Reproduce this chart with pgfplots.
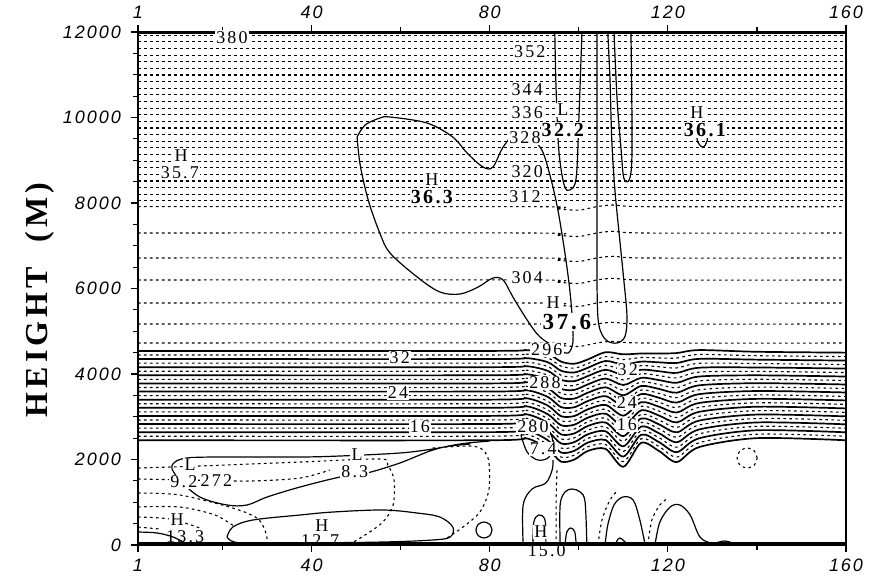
\documentclass[border=0pt]{standalone}
\usepackage{fontspec}
\setmainfont{Liberation Serif}
\newfontfamily\tickfont[LetterSpace=11]{Liberation Sans}
\newfontfamily\lblfont[LetterSpace=12]{Liberation Serif}
\newfontfamily\ylabfont[LetterSpace=13]{Liberation Serif}
\usepackage{pgfplots}
\pgfplotsset{compat=1.18}
\usepackage{pgfplotstable}

\pgfplotstableread{
x l0 l1 l2 l3 l4 l5 l6 l7 l8 l9 l10 l11 l12 l13 l14 l15 l16 l17 l18 l19 l20 l21 l22
1 4540 4445 4350 4255 4160 4065 3970 3875 3780 3685 3590 3495 3400 3305 3210 3115 3020 2925 2830 2735 2640 2545 2450
80 4540 4445 4350 4255 4160 4065 3970 3875 3780 3685 3590 3495 3400 3305 3210 3115 3020 2925 2830 2735 2640 2545 2450
88 4560 4466 4373 4279 4185 4092 3998 3905 3811 3717 3624 3530 3436 3343 3249 3155 3062 2968 2875 2781 2687 2594 2500
93 4480 4379 4277 4176 4075 3973 3872 3770 3669 3568 3466 3365 3264 3162 3061 2960 2858 2757 2655 2554 2453 2351 2250
96 4290 4184 4077 3971 3865 3758 3652 3545 3439 3333 3226 3120 3014 2907 2801 2695 2588 2482 2375 2269 2163 2056 1950
99 4240 4138 4036 3935 3833 3731 3629 3527 3425 3324 3222 3120 3018 2916 2815 2713 2611 2509 2407 2305 2204 2102 2000
102 4340 4243 4145 4048 3951 3854 3756 3659 3562 3465 3367 3270 3173 3075 2978 2881 2784 2686 2589 2492 2395 2297 2200
106 4510 4407 4305 4202 4099 3996 3894 3791 3688 3585 3483 3380 3277 3175 3072 2969 2866 2764 2661 2558 2455 2353 2250
110 4460 4340 4221 4101 3982 3862 3743 3623 3504 3384 3265 3145 3026 2906 2786 2667 2547 2428 2308 2189 2069 1950 1830
114 4480 4385 4290 4195 4100 4005 3910 3815 3720 3625 3530 3435 3340 3245 3150 3055 2960 2865 2770 2675 2580 2485 2390
118 4480 4376 4273 4169 4065 3962 3858 3755 3651 3547 3444 3340 3236 3133 3029 2925 2822 2718 2615 2511 2407 2304 2200
122 4490 4374 4258 4142 4026 3910 3795 3679 3563 3447 3331 3215 3099 2983 2867 2751 2635 2519 2404 2288 2172 2056 1940
127 4560 4457 4354 4250 4147 4044 3941 3838 3735 3631 3528 3425 3322 3219 3115 3012 2909 2806 2703 2600 2496 2393 2290
140 4520 4428 4336 4245 4153 4061 3969 3877 3785 3694 3602 3510 3418 3326 3235 3143 3051 2959 2867 2775 2684 2592 2500
160 4500 4407 4314 4220 4127 4034 3941 3848 3755 3661 3568 3475 3382 3289 3195 3102 3009 2916 2823 2730 2636 2543 2450
}\band

\pgfplotstableread{
x m0 m1 m2 m3 m4 m5 m6
1 4725 5170 5661 6199 6714 7298 7914
90 4725 5170 5661 6199 6714 7298 7914
95 4675 5120 5611 6149 6664 7248 7864
100 4645 5090 5581 6119 6634 7218 7834
104 4725 5170 5661 6199 6714 7298 7914
108 4765 5210 5701 6239 6754 7338 7954
115 4725 5170 5661 6199 6714 7298 7914
160 4725 5170 5661 6199 6714 7298 7914
}\mid

\begin{document}
\begin{tikzpicture}[
  iso/.style={black, line width=0.55pt, dash pattern=on 1.3pt off 1.7pt},
  isos/.style={iso, smooth, tension=0.5},
  wind/.style={black, line width=0.6pt, smooth, tension=0.55},
  bandw/.style={black, line width=0.85pt, smooth, tension=0.5},
  lbl/.style={font=\lblfont\fontsize{9}{10}\selectfont, fill=white, inner sep=0.6pt},
  lbln/.style={font=\lblfont\fontsize{9}{10}\selectfont, inner sep=0.6pt},
  blbl/.style={font=\lblfont\bfseries\fontsize{10}{11}\selectfont, fill=white, inner sep=0.6pt},
]
\begin{axis}[
  scale only axis, width=354pt, height=256.5pt,
  xmin=1, xmax=160, ymin=0, ymax=12000,
  xtick={1,40,80,120,160}, xticklabels={1,40,80,120,160},
  minor xtick={20,60,100,140},
  ytick={0,2000,4000,6000,8000,10000,12000},
  yticklabels={0,2000,4000,6000,8000,10000,12000},
  scaled y ticks=false, scaled x ticks=false,
  minor y tick num=3,
  ytick pos=left,
  tick align=outside,
  major tick length=3.5pt, minor tick length=2.5pt,
  tick style={black, line width=0.6pt},
  ticklabel style={font=\tickfont\itshape\fontsize{9}{10}\selectfont},
  yticklabel style={xshift=-1.5pt},
  axis line style={line width=0.7pt},
  clip mode=individual,
]
\coordinate (BL) at (rel axis cs:0,0);
\coordinate (TR) at (rel axis cs:1,1);

% upper isentropes (dense, above tropopause)
\pgfplotsinvokeforeach{8050,8205,8360,8515,8670,8825,8980,9135,9290,9445,9600,9755,9910,10065,10220,10375,10530,10685,10840,10995,11150,11305,11460,11615,11770,11925}{
  \addplot[iso] coordinates {(1,#1) (160,#1)};
}
% mid isentropes
\pgfplotsinvokeforeach{0,...,6}{
  \addplot[isos] table[x=x,y=m#1]{\mid};
}
% stable band: solid wind and dashed isentropes
\pgfplotsinvokeforeach{0,2,...,22}{
  \addplot[bandw] table[x=x,y=l#1]{\band};
}
\pgfplotsinvokeforeach{1,3,...,21}{
  \addplot[isos] table[x=x,y=l#1]{\band};
}

% ground and top lines
\addplot[black, line width=2.6pt] coordinates {(1,0) (160,0)};
\addplot[black, line width=2.2pt] coordinates {(1,12000) (160,12000)};

% jet contour (H 36.3)
\addplot[wind] coordinates {(50.2,9543) (52.0,9824) (55.3,9987) (57.6,10011) (65.9,9871) (71.7,9543) (74.9,9169) (78.5,8841) (80.7,8841) (83.0,9309) (86.1,9660) (89.0,9543) (91.7,9239) (93.5,8654) (95.3,7836) (97.1,6666) (98.2,5731) (98.7,4795) (97.6,4491) (95.8,4561) (91.3,4865) (88.4,5263) (85.2,5801) (83.0,6199) (80.7,6245) (77.4,6035) (73.3,5871) (68.8,5918) (63.7,6269) (57.6,6830) (55.3,7298) (52.7,8070) (50.9,8888) (50.2,9543)};
% tongue L 32.2
\addplot[wind] coordinates {(94.6,12000) (94.9,10642) (95.5,9239) (96.7,8420) (98.0,8303) (99.4,8584) (100.0,9941) (100.7,12000)};
% tongue 2
\addplot[wind] coordinates {(104.1,12000) (104.1,9941) (104.1,8070) (104.1,5964) (104.5,5146) (106.1,4795) (108.6,4725) (110.4,4889) (110.8,5380) (110.1,6198) (109.2,7134) (108.1,8303) (107.4,9473) (107.0,10876) (106.5,12000)};
% tongue 3
\addplot[wind] coordinates {(107.9,12000) (108.6,10409) (109.5,9239) (110.1,8584) (111.3,8537) (111.9,9005) (111.9,10409) (111.7,12000)};
% H 36.1 hook
\addplot[wind] coordinates {(126.3,9754) (126.7,9426) (127.9,9309) (128.8,9450) (128.8,9707)};

% L 9.2 / 8.3 contour
\addplot[wind] coordinates {(75.6,2362) (71.1,2316) (67.2,2245) (59.8,2152) (46.4,2082) (37.4,2058) (23.9,2058) (12.0,2035) (8.6,1848) (10.4,1520) (14.9,1123) (21.0,936) (25.5,936) (30.0,1123) (37.4,1357) (46.4,1591) (52.4,1684) (59.8,1918) (67.2,2222) (73.3,2362) (80.0,2433)};
% H 12.7 loop
\addplot[wind] coordinates {(21.0,187) (22.3,421) (26.8,585) (37.4,702) (44.8,772) (56.0,819) (63.7,748) (68.8,655) (71.7,421) (71.1,187) (67.2,117) (56.0,70) (37.4,47) (23.9,47) (21.0,187)};
% H 13.3 curve
\addplot[wind] coordinates {(1,304) (5.3,281) (8.9,187) (12.0,23)};

% boundary-layer isentropes
\addplot[isos] coordinates {(1,1801) (14.9,1848) (37.4,1941) (55.3,2012) (57.1,1871) (58.5,1520) (58.3,936) (56.0,538) (52.0,234) (48.6,23)};
\addplot[isos] coordinates {(1,1544) (12.7,1520) (26.2,1497) (37.4,1567) (44.1,1754)};
\addplot[isos] coordinates {(67.2,2269) (75.6,2316) (78.5,2222) (79.8,1941) (79.8,1286) (77.8,772) (74.0,421) (70.4,164)};
\addplot[isos] coordinates {(1,1216) (10.4,1170) (22.3,865) (27.7,632) (29.5,351) (30.2,23)};
\addplot[isos] coordinates {(1,889) (10.4,889) (18.3,702) (22.8,421)};
\addplot[isos] coordinates {(1,655) (8.2,608) (14.9,398)};
\addplot[isos] coordinates {(1,421) (5.9,374)};

% lower right structures
\addplot[wind] coordinates {(87.5,0) (87.5,936) (89.5,1310) (92.6,1450) (94.0,1754) (94.2,1988)};
\addplot[wind] coordinates {(87.0,2573) (88.4,2175) (90.8,1988) (93.3,2058) (94.2,2409) (92.8,2737) (89.5,2783) (87.0,2573)};
\addplot[wind] coordinates {(95.8,0) (95.8,936) (96.9,1240) (98.5,1310) (100.3,1240) (101.4,1006) (101.8,0)};
\addplot[wind] coordinates {(96.9,0) (97.3,304) (98.2,398) (99.1,304) (99.4,0)};
\addplot[wind] coordinates {(89.7,0) (89.9,538) (91.0,702) (92.4,585) (92.6,0)};
\addplot[wind] coordinates {(105.9,0) (106.5,468) (107.9,936) (109.9,1123) (112.2,1053) (113.7,585) (114.9,0)};
\addplot[wind] coordinates {(108.1,0) (109.2,164) (111.0,0)};
\addplot[wind] coordinates {(117.1,0) (118.2,538) (120.5,889) (122.7,936) (125.0,702) (127.2,187) (129.9,47) (132.8,94) (135.1,23)};
\addplot[isos] coordinates {(104.3,0) (105.2,585) (107.0,1053) (108.8,1286)};
\addplot[isos] coordinates {(115.5,0) (116.4,585) (118.2,936) (120.0,1099)};
\addplot[isos] coordinates {(94.9,0) (94.9,1053) (95.1,1754)};
% small circles
\addplot[wind] coordinates {(80.5,351) (80.0,483) (78.7,538) (77.4,483) (76.9,351) (77.4,219) (78.7,164) (80.0,219) (80.5,351)};
\addplot[isos] coordinates {(140.05,2035) (139.4,2200) (137.8,2269) (136.2,2200) (135.55,2035) (136.2,1870) (137.8,1801) (139.4,1870) (140.05,2035)};

% labels
\node[lbl] at (axis cs:22.1,11880) {380};
\node[lbl] at (axis cs:89.0,11531) {352};
\node[lbl] at (axis cs:88.4,10642) {344};
\node[lbl] at (axis cs:88.4,10104) {336};
\node[lbl] at (axis cs:87.9,9520) {328};
\node[lbl] at (axis cs:88.4,8724) {320};
\node[lbl] at (axis cs:87.9,8140) {312};
\node[lbl] at (axis cs:88.4,6245) {304};
\node[lbl] at (axis cs:92.8,4561) {296};
\node[lbl] at (axis cs:92.4,3789) {288};
\node[lbl] at (axis cs:89.7,2760) {280};
\node[lbl] at (axis cs:18.6,1497) {272};
\node[lbl] at (axis cs:59.8,4374) {32};
\node[lbl] at (axis cs:59.4,3555) {24};
\node[lbl] at (axis cs:64.3,2760) {16};
\node[lbl] at (axis cs:111.0,4093) {32};
\node[lbl] at (axis cs:110.8,3321) {24};
\node[lbl] at (axis cs:110.8,2807) {16};
\node[lbl] at (axis cs:10.7,9099) {H};
\node[lbl] at (axis cs:10.4,8701) {35.7};
\node[lbl] at (axis cs:67.0,8537) {H};
\node[blbl] at (axis cs:67.0,8140) {36.3};
\node[lbl] at (axis cs:96.4,10175) {L};
\node[blbl] at (axis cs:96.4,9707) {32.2};
\node[lbl] at (axis cs:94.2,5660) {H};
\node[blbl, font=\lblfont\bfseries\fontsize{11.5}{12}\selectfont] at (axis cs:97.3,5216) {37.6};
\node[lbl] at (axis cs:126.5,10104) {H};
\node[blbl] at (axis cs:128.3,9707) {36.1};
\node[lbl] at (axis cs:92.0,2245) {7.4};
\node[lbl] at (axis cs:12.7,1871) {L};
\node[lbl] at (axis cs:11.3,1474) {9.2};
\node[lbl] at (axis cs:50.2,2105) {L};
\node[lbl] at (axis cs:49.7,1707) {8.3};
\node[lbl] at (axis cs:42.3,444) {H};
\node[lbln] at (axis cs:41.9,94) {12.7};
\node[lbl] at (axis cs:9.8,585) {H};
\node[lbln] at (axis cs:11.6,187) {13.3};
\node[lbl] at (axis cs:91.5,304) {H};
\node[lbln] at (axis cs:92.8,-140) {15.0};

% top tick labels
\node[font=\tickfont\itshape\fontsize{9}{10}\selectfont, anchor=base] at (axis cs:1,12000) [yshift=7pt] {1};
\node[font=\tickfont\itshape\fontsize{9}{10}\selectfont, anchor=base] at (axis cs:40,12000) [yshift=7pt] {40};
\node[font=\tickfont\itshape\fontsize{9}{10}\selectfont, anchor=base] at (axis cs:80,12000) [yshift=7pt] {80};
\node[font=\tickfont\itshape\fontsize{9}{10}\selectfont, anchor=base] at (axis cs:120,12000) [yshift=7pt] {120};
\node[font=\tickfont\itshape\fontsize{9}{10}\selectfont, anchor=base] at (axis cs:160,12000) [yshift=7pt] {160};

% y label
\node[rotate=90, font=\ylabfont\bfseries\fontsize{16}{18}\selectfont] at (rel axis cs:-0.1384,0.4776) {HEIGHT\ \ (M)};
\end{axis}
\pgfresetboundingbox
\path ([shift={(-69pt,-17.5pt)}]BL) rectangle ([shift={(12.5pt,16pt)}]TR);
\end{tikzpicture}
\end{document}
